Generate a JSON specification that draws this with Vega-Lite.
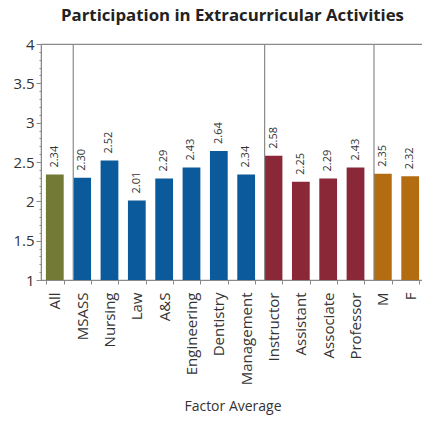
{
  "$schema": "https://vega.github.io/schema/vega-lite/v6.json",
  "autosize": "none",
  "width": 383,
  "height": 236,
  "padding": {"left": 41, "top": 44, "right": 0, "bottom": 148},
  "background": "white",
  "title": {
    "text": "Participation in Extracurricular Activities",
    "font": "Open Sans",
    "fontSize": 16.8,
    "fontWeight": "bold",
    "color": "#222",
    "anchor": "middle",
    "offset": 12
  },
  "config": {
    "view": {"stroke": "#8a8a8a", "strokeWidth": 1.2},
    "axis": {"domainColor": "#8a8a8a", "tickColor": "#8a8a8a", "labelColor": "#333", "titleColor": "#333", "grid": false}
  },
  "datasets": {
    "bars": [
      {"cat": "All", "group": "All", "value": 2.34},
      {"cat": "MSASS", "group": "School", "value": 2.30},
      {"cat": "Nursing", "group": "School", "value": 2.52},
      {"cat": "Law", "group": "School", "value": 2.01},
      {"cat": "A&S", "group": "School", "value": 2.29},
      {"cat": "Engineering", "group": "School", "value": 2.43},
      {"cat": "Dentistry", "group": "School", "value": 2.64},
      {"cat": "Management", "group": "School", "value": 2.34},
      {"cat": "Instructor", "group": "Rank", "value": 2.58},
      {"cat": "Assistant", "group": "Rank", "value": 2.25},
      {"cat": "Associate", "group": "Rank", "value": 2.29},
      {"cat": "Professor", "group": "Rank", "value": 2.43},
      {"cat": "M", "group": "Gender", "value": 2.35},
      {"cat": "F", "group": "Gender", "value": 2.32}
    ],
    "separators": [
      {"cat": "MSASS"},
      {"cat": "Instructor"},
      {"cat": "M"}
    ]
  },
  "encoding": {
    "x": {
      "field": "cat",
      "type": "nominal",
      "scale": {
        "domain": ["All", "MSASS", "Nursing", "Law", "A&S", "Engineering", "Dentistry", "Management", "Instructor", "Assistant", "Associate", "Professor", "M", "F"],
        "paddingInner": 0.35,
        "paddingOuter": 0.18
      },
      "axis": {
        "title": "Factor Average",
        "titleFont": "Open Sans",
        "titleFontSize": 14,
        "titleFontWeight": "normal",
        "titlePadding": 15,
        "labelFont": "Open Sans",
        "labelFontSize": 15,
        "labelAngle": 270,
        "labelPadding": 8,
        "tickBand": "extent",
        "tickSize": 4
      }
    }
  },
  "layer": [
    {
      "data": {"name": "bars"},
      "encoding": {
        "y": {
          "field": "value",
          "type": "quantitative",
          "scale": {"domain": [1, 4], "zero": false, "nice": false},
          "axis": {
            "title": null,
            "values": [1, 1.1, 1.2, 1.3, 1.4, 1.5, 1.6, 1.7, 1.8, 1.9, 2, 2.1, 2.2, 2.3, 2.4, 2.5, 2.6, 2.7, 2.8, 2.9, 3, 3.1, 3.2, 3.3, 3.4, 3.5, 3.6, 3.7, 3.8, 3.9, 4],
            "labelExpr": "abs(datum.value*2 - round(datum.value*2)) < 0.01 ? (abs(datum.value - round(datum.value)) < 0.01 ? format(datum.value, 'd') : format(datum.value, '.1f')) : ''",
            "labelOverlap": false,
            "labelBound": false,
            "labelFlush": false,
            "tickSize": {"condition": {"test": "abs(datum.value*2 - round(datum.value*2)) < 0.01", "value": 5}, "value": 2},
            "labelFont": "Open Sans",
            "labelFontSize": 15,
            "labelPadding": 2,
            "labelColor": "#333"
          }
        }
      },
      "layer": [
        {
          "mark": {"type": "bar"},
          "encoding": {
            "y2": {"datum": 1},
            "color": {
              "field": "group",
              "type": "nominal",
              "scale": {"domain": ["All", "School", "Rank", "Gender"], "range": ["#727a36", "#0b5a9c", "#8a2837", "#b36d10"]},
              "legend": null
            }
          }
        },
        {
          "mark": {"type": "text", "angle": 270, "align": "left", "baseline": "middle", "dx": 7, "font": "Open Sans", "fontSize": 11, "color": "#333"},
          "encoding": {
            "text": {"field": "value", "type": "quantitative", "format": ".2f"}
          }
        }
      ]
    },
    {
      "data": {"name": "separators"},
      "mark": {"type": "rule", "color": "#8a8a8a", "strokeWidth": 1.2},
      "encoding": {
        "x": {"field": "cat", "type": "nominal", "bandPosition": 0}
      }
    }
  ]
}
